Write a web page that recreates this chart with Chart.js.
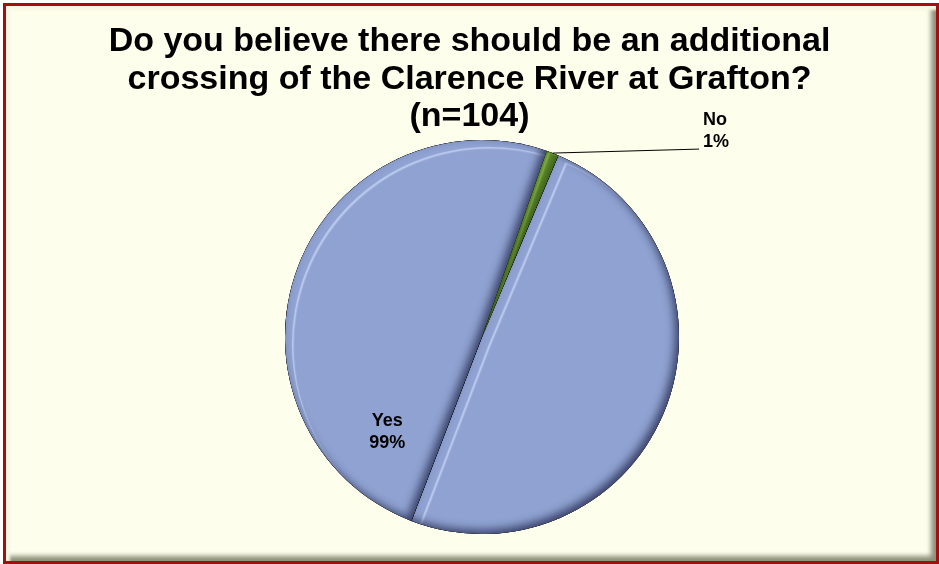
<!DOCTYPE html>
<html>
<head>
<meta charset="utf-8">
<script src="https://cdn.jsdelivr.net/npm/chart.js@4.4.1/dist/chart.umd.min.js"></script>
<style>
  html, body { margin: 0; padding: 0; background: #fff; }
  #frame {
    position: absolute; left: 3px; top: 3px; width: 936px; height: 561px;
    box-sizing: border-box; border: 3px solid #a30e0e; background: #fefeec;
    box-shadow: inset 5px 5px 3px -1px #f6f8e4, inset -8px -8px 5px -3px #8c8f7a;
  }
  #chart { position: absolute; left: 0; top: 0; }
</style>
</head>
<body>
<div id="frame"></div>
<canvas id="chart" width="939" height="564"></canvas>
<script>
// Survey answers (percent of respondents)
const categories = ['Yes', 'No'];
const percentages = [99, 1];
const titleLines = [
  'Do you believe there should be an additional',
  'crossing of the Clarence River at Grafton?',
  '(n=104)'
];

// Slice fills and bevel shades
const sliceColors = ['#8fa2d1', '#6b9b32'];
const bevelStyles = [
  { light: 'rgba(200,212,246,0.9)', shade: 'rgba(45,52,90,0.85)', depth: 8.5 },
  { light: 'rgba(150,195,90,0.9)', shade: 'rgba(30,55,10,0.6)', depth: 3 }
];

function wedge(ctx, x, y, r, a0, a1) {
  ctx.moveTo(x, y);
  ctx.arc(x, y, r, a0, a1);
  ctx.closePath();
}

// Inner shadow cast by everything outside the wedge
function innerShadow(ctx, x, y, r, a0, a1, color, blur, off) {
  ctx.save();
  ctx.shadowColor = color;
  ctx.shadowBlur = blur;
  ctx.shadowOffsetX = off;
  ctx.shadowOffsetY = off;
  ctx.beginPath();
  ctx.rect(x - 3 * r, y - 3 * r, 6 * r, 6 * r);
  wedge(ctx, x, y, r, a0, a1);
  ctx.fillStyle = '#000';
  ctx.fill('evenodd');
  ctx.restore();
}

// Soft bevel on each slice; slices wider than a half circle get split in two
const bevelPlugin = {
  id: 'bevel',
  afterDatasetsDraw(chart) {
    const ctx = chart.ctx;
    chart.getDatasetMeta(0).data.forEach((arc, i) => {
      const p = arc.getProps(['x', 'y', 'startAngle', 'endAngle', 'outerRadius'], true);
      const span = p.endAngle - p.startAngle;
      const pieces = span > Math.PI
        ? [[p.startAngle, p.startAngle + span / 2], [p.startAngle + span / 2, p.endAngle]]
        : [[p.startAngle, p.endAngle]];
      const st = bevelStyles[i];
      pieces.forEach(([a0, a1]) => {
        ctx.save();
        ctx.beginPath();
        wedge(ctx, p.x, p.y, p.outerRadius, a0, a1);
        ctx.clip();
        innerShadow(ctx, p.x, p.y, p.outerRadius, a0, a1, st.light, 1.5, st.depth);
        innerShadow(ctx, p.x, p.y, p.outerRadius, a0, a1, sliceColors[i], 1, st.depth - 1.5);
        innerShadow(ctx, p.x, p.y, p.outerRadius, a0, a1, st.shade, 8, -4);
        ctx.restore();
      });
    });
  }
};

// Category name and percentage labels
const sliceLabelPlugin = {
  id: 'sliceLabels',
  afterDraw(chart, args, opts) {
    const ctx = chart.ctx;
    const arcs = chart.getDatasetMeta(0).data;
    ctx.save();
    ctx.font = 'bold 18px "Liberation Sans", Arial, sans-serif';
    ctx.fillStyle = '#000';
    ctx.textAlign = 'center';
    ctx.textBaseline = 'middle';
    arcs.forEach((arc, i) => {
      const p = arc.getProps(['x', 'y', 'startAngle', 'endAngle', 'outerRadius'], true);
      const lines = [categories[i], percentages[i] + '%'];
      if (opts.outside[i]) {
        const mid = (p.startAngle + p.endAngle) / 2;
        const tx = p.x + Math.cos(mid) * p.outerRadius;
        const ty = p.y + Math.sin(mid) * p.outerRadius;
        const ex = p.x + p.outerRadius + 20;
        const ey = ty - 4;
        ctx.beginPath();
        ctx.moveTo(tx, ty);
        ctx.lineTo(ex, ey);
        ctx.strokeStyle = '#000';
        ctx.lineWidth = 1;
        ctx.stroke();
        ctx.fillText(lines[0], ex + 16, ey - 29);
        ctx.fillText(lines[1], ex + 17, ey - 7);
      } else {
        const a = opts.insideAngle * Math.PI / 180;
        const cx = p.x + Math.cos(a) * p.outerRadius * opts.insideDist;
        const cy = p.y + Math.sin(a) * p.outerRadius * opts.insideDist;
        ctx.fillText(lines[0], cx, cy - 11);
        ctx.fillText(lines[1], cx, cy + 11);
      }
    });
    ctx.restore();
  }
};

new Chart(document.getElementById('chart'), {
  type: 'pie',
  data: {
    labels: categories,
    datasets: [{
      data: percentages,
      backgroundColor: sliceColors,
      borderWidth: 0,
      hoverOffset: 0
    }]
  },
  options: {
    responsive: false,
    animation: false,
    rotation: 22.8,
    layout: { padding: { top: 0, right: 0, bottom: 30, left: 0 } },
    plugins: {
      legend: { display: false },
      tooltip: { enabled: false },
      title: {
        display: true,
        text: titleLines,
        color: '#000',
        font: { family: '"Liberation Sans", Arial, sans-serif', size: 34, weight: 'bold', lineHeight: '37.5px' },
        padding: { top: 23, bottom: 4.5 }
      },
      // empty box on the left pushes the pie a little to the right
      subtitle: {
        display: true,
        position: 'left',
        text: '',
        padding: 0,
        font: { size: 25, lineHeight: 1 }
      },
      sliceLabels: { outside: [false, true], insideAngle: 135, insideDist: 0.68 }
    }
  },
  plugins: [bevelPlugin, sliceLabelPlugin]
});
</script>
</body>
</html>
